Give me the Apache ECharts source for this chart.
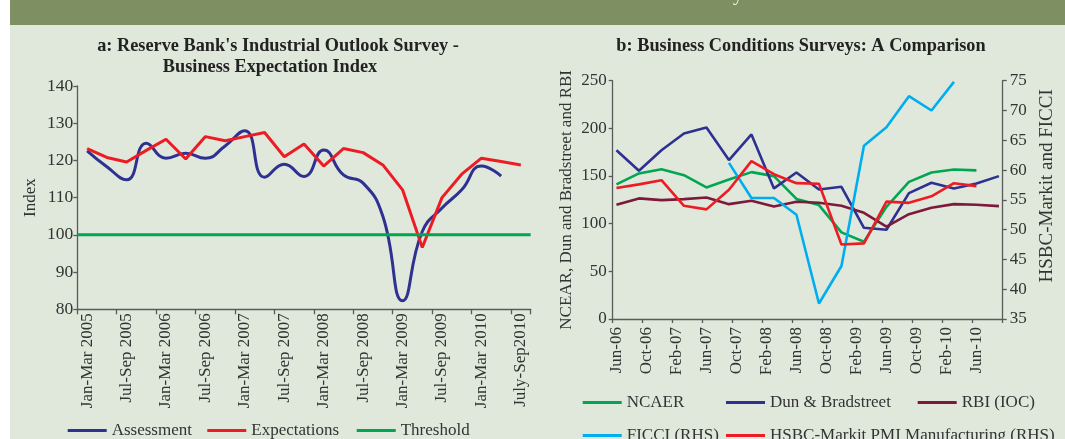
<!DOCTYPE html>
<html>
<head>
<meta charset="utf-8">
<script src="https://cdn.jsdelivr.net/npm/echarts@6/dist/echarts.min.js"></script>
<style>
html,body{margin:0;padding:0;background:#ffffff;}
#c{width:1065px;height:439px;}
</style>
</head>
<body>
<div id="c"></div>
<script>
// ---------- Panel a: Reserve Bank's Industrial Outlook Survey ----------
const leftCategories = ['Jan-Mar 2005','Apr-Jun 2005','Jul-Sep 2005','Oct-Dec 2005',
  'Jan-Mar 2006','Apr-Jun 2006','Jul-Sep 2006','Oct-Dec 2006',
  'Jan-Mar 2007','Apr-Jun 2007','Jul-Sep 2007','Oct-Dec 2007',
  'Jan-Mar 2008','Apr-Jun 2008','Jul-Sep 2008','Oct-Dec 2008',
  'Jan-Mar 2009','Apr-Jun 2009','Jul-Sep 2009','Oct-Dec 2009',
  'Jan-Mar 2010','Apr-Jun 2010','July-Sep2010'];
const assessment = [122.6, 118.3, 114.8, 124.6, 120.6, 121.9, 120.6, 123.9, 128.0, 115.5, 119.0, 115.7,
  122.8, 116.1, 113.9, 105.0, 82.3, 100.9, 107.2, 112.1, 118.5, 115.8];
const expectations = [123.2, 120.8, 119.6, 122.7, 125.7, 120.4, 126.4, 125.3, 126.4, 127.5, 121.0, 124.4,
  118.5, 123.2, 122.1, 118.8, 112.1, 96.6, 110.0, 116.3, 120.6, 119.7, 118.8];
const threshold = [100,100,100,100,100,100,100,100,100,100,100,100,100,100,100,100,100,100,100,100,100,100,100];
const leftYAxis = {min: 80, max: 140, interval: 10};

// ---------- Panel b: Business Conditions Surveys ----------
const rightMonths = ['Jun-06','Jul-06','Aug-06','Sep-06','Oct-06','Nov-06','Dec-06','Jan-07','Feb-07','Mar-07','Apr-07','May-07',
  'Jun-07','Jul-07','Aug-07','Sep-07','Oct-07','Nov-07','Dec-07','Jan-08','Feb-08','Mar-08','Apr-08','May-08',
  'Jun-08','Jul-08','Aug-08','Sep-08','Oct-08','Nov-08','Dec-08','Jan-09','Feb-09','Mar-09','Apr-09','May-09',
  'Jun-09','Jul-09','Aug-09','Sep-09','Oct-09','Nov-09','Dec-09','Jan-10','Feb-10','Mar-10','Apr-10','May-10',
  'Jun-10','Jul-10','Aug-10','Sep-10'];
const quarterMonths = ['Jun-06','Sep-06','Dec-06','Mar-07','Jun-07','Sep-07','Dec-07','Mar-08','Jun-08',
  'Sep-08','Dec-08','Mar-09','Jun-09','Sep-09','Dec-09','Mar-10','Jun-10','Sep-10'];
const ncaer = [141.2, 152.7, 157.2, 150.9, 138.0, 146.4, 154.1, 149.9, 126.0, 119.5, 90.9, 81.0, 117.7, 143.9, 153.7, 156.9, 155.9];
const dunBradstreet = [177.1, 155.5, 177.0, 194.6, 200.9, 166.7, 193.6, 137.0, 153.7, 135.9, 138.7, 95.7, 93.6, 132.1, 142.9, 137.0, 142.2, 149.9];
const rbiIoc = [119.8, 126.5, 124.7, 125.8, 127.5, 120.5, 124.0, 118.1, 123.0, 121.9, 118.8, 111.4, 96.8, 110.0, 116.7, 120.5, 119.8, 118.4];
const ficci = [null, null, null, null, null, 61.2, 55.3, 55.3, 52.5, 37.6, 43.9, 64.1, 67.2, 72.4, 70.0, 74.8];
const hsbcPmi = [57.0, 57.6, 58.3, 54.0, 53.4, 56.7, 61.5, 59.3, 57.8, 57.7, 47.5, 47.7, 54.7, 54.5, 55.6, 57.8, 57.3];
const rightLeftAxis = {min: 0, max: 250, interval: 50};
const rightRightAxis = {min: 35, max: 75, interval: 5};

// ---------- styling ----------
const FONT = 'Liberation Serif';
const TXT = '#333333';
const AXC = '#5a5a5a';
const C_BLUE = '#2e3192', C_RED = '#ed1c24', C_GREEN = '#00a651', C_CYAN = '#00aeef', C_MAROON = '#7d1a3c';

function pairs(arr) {
  return quarterMonths.slice(0, arr.length).map((m, i) => [m, arr[i]]).filter(p => p[1] != null);
}
function leg(name, left, top) {
  return {data: [name], left: left, top: top, orient: 'horizontal', padding: 0,
    itemWidth: 39, itemHeight: 3, icon: 'rect', selectedMode: false,
    textStyle: {fontFamily: FONT, fontSize: 17, color: TXT, lineHeight: 17}};
}
function line(name, color, width, xi, yi, data, extra) {
  return Object.assign({name: name, type: 'line', xAxisIndex: xi, yAxisIndex: yi, data: data,
    symbol: 'none', showSymbol: false, color: color, itemStyle: {color: color},
    lineStyle: {color: color, width: width}, emphasis: {disabled: true}, animation: false}, extra || {});
}
const axisLineStyle = {show: true, lineStyle: {color: AXC, width: 1.3}};
const tickStyle = {show: true, length: 4, lineStyle: {color: AXC, width: 1.3}};

const chart = echarts.init(document.getElementById('c'), null, {renderer: 'canvas'});
chart.setOption({
  backgroundColor: '#dfe8db',
  animation: false,
  graphic: [
    {type: 'rect', shape: {x: 0, y: 0, width: 10, height: 439}, style: {fill: '#ffffff'}, z: -1},
    {type: 'rect', shape: {x: 10, y: 0, width: 1055, height: 25}, style: {fill: '#7e9062'}, z: -1},
    {type: 'text', x: 738, y: 4.5, style: {text: 'y', font: '20px ' + FONT, fill: '#f4f4f4', align: 'center', verticalAlign: 'bottom'}},
    {type: 'text', x: 278, y: 46, style: {text: "a: Reserve Bank's Industrial Outlook Survey -", font: 'bold 18.3px ' + FONT, fill: '#222', align: 'center', verticalAlign: 'middle'}},
    {type: 'text', x: 270, y: 67, style: {text: 'Business Expectation Index', font: 'bold 18.3px ' + FONT, fill: '#222', align: 'center', verticalAlign: 'middle'}},
    {type: 'text', x: 801, y: 46, style: {text: 'b: Business Conditions Surveys: A Comparison', font: 'bold 18.3px ' + FONT, fill: '#222', align: 'center', verticalAlign: 'middle'}}
  ],
  grid: [
    {left: 77.3, top: 86, width: 453.4, height: 223.3, outerBoundsMode: 'none'},
    {left: 612.7, top: 80.7, width: 390, height: 238.3, outerBoundsMode: 'none'}
  ],
  xAxis: [
    {type: 'category', gridIndex: 0, data: leftCategories, boundaryGap: true,
      axisLine: axisLineStyle, axisTick: Object.assign({}, tickStyle, {interval: 1, length: 5}),
      axisLabel: {interval: 1, rotate: 90, margin: 4, fontFamily: FONT, fontSize: 17, color: TXT},
      splitLine: {show: false}},
    {type: 'category', gridIndex: 0, data: leftCategories, boundaryGap: false, show: false},
    {type: 'category', gridIndex: 1, data: rightMonths, boundaryGap: true,
      axisLine: axisLineStyle, axisTick: Object.assign({}, tickStyle, {interval: 3}),
      axisLabel: {interval: 3, rotate: 90, margin: 8, padding: [9, 0, 0, 0], fontFamily: FONT, fontSize: 17, color: TXT},
      splitLine: {show: false}}
  ],
  yAxis: [
    {type: 'value', gridIndex: 0, min: leftYAxis.min, max: leftYAxis.max, interval: leftYAxis.interval,
      name: 'Index', nameLocation: 'middle', nameGap: 38,
      nameTextStyle: {fontFamily: FONT, fontSize: 17, color: TXT},
      axisLine: axisLineStyle, axisTick: tickStyle, splitLine: {show: false},
      axisLabel: {margin: 4, fontFamily: FONT, fontSize: 17.5, color: TXT}},
    {type: 'value', gridIndex: 1, position: 'left', min: rightLeftAxis.min, max: rightLeftAxis.max, interval: rightLeftAxis.interval,
      name: 'NCEAR, Dun and Bradstreet and RBI', nameLocation: 'middle', nameGap: 38,
      nameTextStyle: {fontFamily: FONT, fontSize: 17, color: TXT},
      axisLine: axisLineStyle, axisTick: tickStyle, splitLine: {show: false},
      axisLabel: {margin: 6, fontFamily: FONT, fontSize: 17, color: TXT}},
    {type: 'value', gridIndex: 1, position: 'right', min: rightRightAxis.min, max: rightRightAxis.max, interval: rightRightAxis.interval,
      name: 'HSBC-Markit and FICCI', nameLocation: 'middle', nameGap: 35,
      nameTextStyle: {fontFamily: FONT, fontSize: 19, color: TXT, padding: [0, 0, 0, 28]},
      axisLine: axisLineStyle, axisTick: tickStyle, splitLine: {show: false},
      axisLabel: {margin: 7, fontFamily: FONT, fontSize: 17, color: TXT}}
  ],
  legend: [
    leg('Assessment', 67.7, 422),
    leg('Expectations', 207.3, 422),
    leg('Threshold', 356.7, 422),
    leg('NCAER', 582.7, 394),
    leg('Dun & Bradstreet', 726, 394),
    leg('RBI (IOC)', 917.7, 394),
    leg('FICCI (RHS)', 582.7, 427),
    leg('HSBC-Markit PMI Manufacturing (RHS)', 726, 427)
  ],
  series: [
    line('Assessment', C_BLUE, 3, 0, 0, assessment, {smooth: true}),
    line('Expectations', C_RED, 3, 0, 0, expectations),
    line('Threshold', C_GREEN, 3, 1, 0, threshold),
    line('NCAER', C_GREEN, 2.6, 2, 1, pairs(ncaer)),
    line('Dun & Bradstreet', C_BLUE, 2.6, 2, 1, pairs(dunBradstreet)),
    line('RBI (IOC)', C_MAROON, 2.6, 2, 1, pairs(rbiIoc)),
    line('FICCI (RHS)', C_CYAN, 2.6, 2, 2, pairs(ficci)),
    line('HSBC-Markit PMI Manufacturing (RHS)', C_RED, 2.6, 2, 2, pairs(hsbcPmi))
  ]
});
</script>
</body>
</html>
